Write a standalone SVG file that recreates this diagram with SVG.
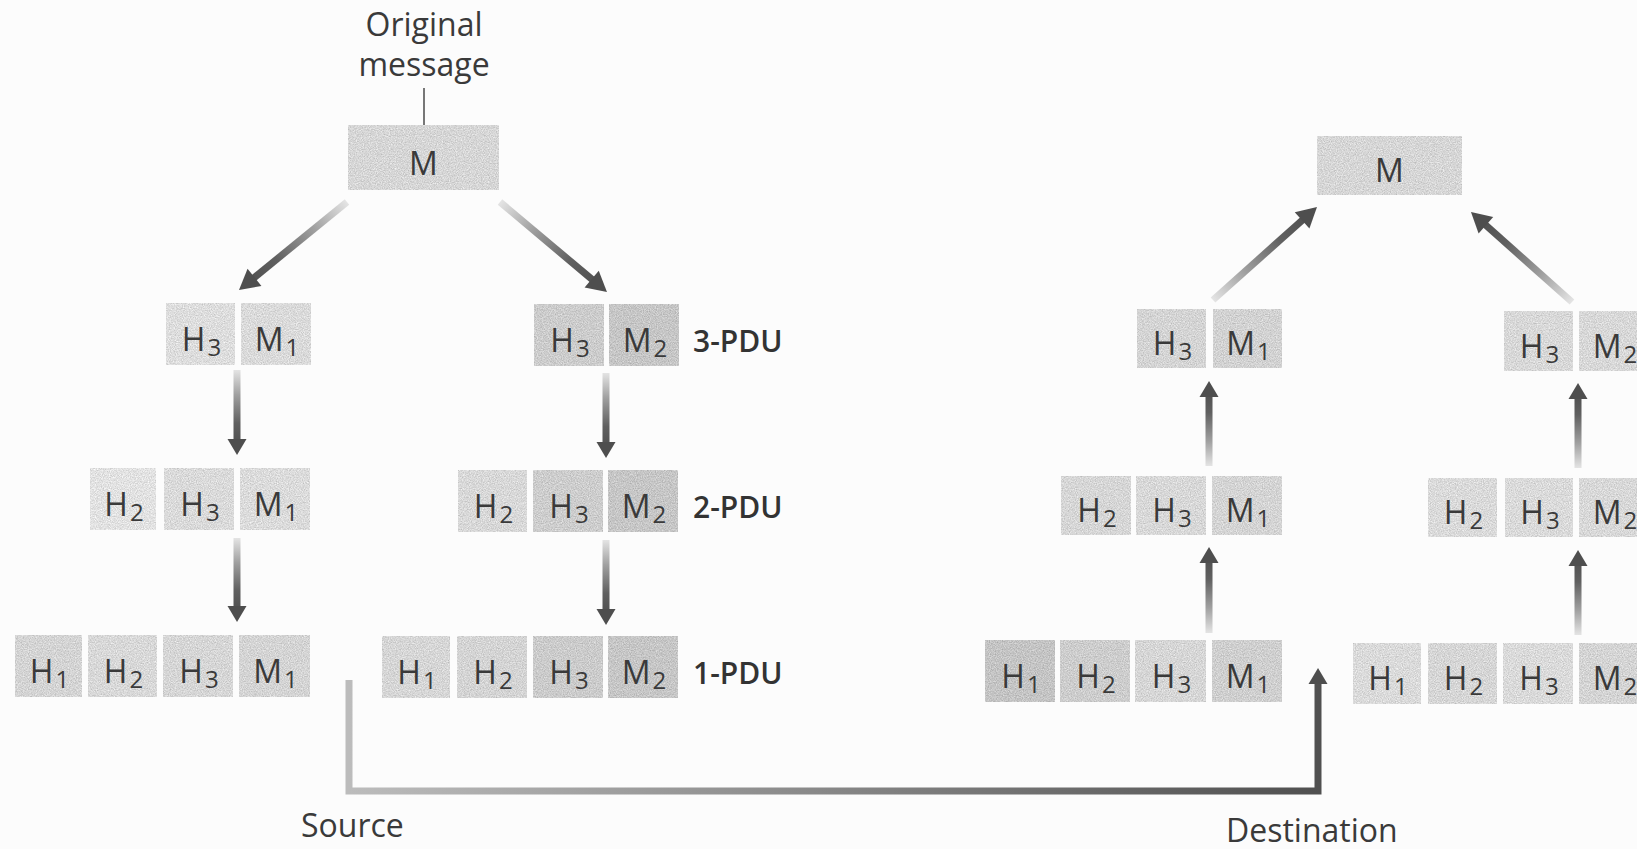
<svg xmlns="http://www.w3.org/2000/svg" xmlns:xlink="http://www.w3.org/1999/xlink" width="1637" height="849" viewBox="0 0 1637 849">
  <defs>
    <style>
      .cell { filter: url(#grain); }
      .t { font-family: "Open Sans", "Noto Sans", "DejaVu Sans", sans-serif; font-size: 32px; fill: #3a3a3a; text-anchor: middle; }
      .sub { font-size: 24px; }
      .pdu { font-family: "Open Sans", "Noto Sans", "DejaVu Sans", sans-serif; font-size: 30px; font-weight: 600; fill: #333333; }
      .cap { font-family: "Open Sans", "Noto Sans", "DejaVu Sans", sans-serif; font-size: 32px; fill: #3a3a3a; }
      .shaft { fill: url(#fade); }
      .head { fill: #4e4e4e; }
    </style>
    <!-- speckled print texture for the grey cells -->
    <filter id="grain" x="0" y="0" width="100%" height="100%" color-interpolation-filters="sRGB">
      <feTurbulence type="fractalNoise" baseFrequency="0.85" numOctaves="2" seed="7" result="noise"/>
      <feColorMatrix in="noise" type="matrix" values="1 0 0 0 0  1 0 0 0 0  1 0 0 0 0  0 0 0 0 1" result="gray"/>
      <feComposite in="SourceGraphic" in2="gray" operator="arithmetic" k1="0" k2="1" k3="0.3" k4="-0.15" result="mix"/>
      <feComposite in="mix" in2="SourceGraphic" operator="in"/>
    </filter>
    <!-- arrow shaft fades from pale tail to dark head -->
    <linearGradient id="fade" x1="0" y1="0" x2="1" y2="0">
      <stop offset="0" stop-color="#e4e4e4"/>
      <stop offset="0.35" stop-color="#a0a0a0"/>
      <stop offset="0.75" stop-color="#606060"/>
      <stop offset="1" stop-color="#525252"/>
    </linearGradient>
    <linearGradient id="trail" gradientUnits="userSpaceOnUse" x1="349" y1="0" x2="1318" y2="0">
      <stop offset="0" stop-color="#bcbcbc"/>
      <stop offset="0.45" stop-color="#8c8c8c"/>
      <stop offset="1" stop-color="#505050"/>
    </linearGradient>
    <path id="headS" d="M0,0 L-16,-9.5 L-16,9.5 Z"/>
    <path id="headL" d="M0,0 L-20,-11 L-20,11 Z"/>
  </defs>

  <rect width="1637" height="849" fill="#fcfcfc"/>

  <!-- ===== Source side ===== -->
  <g id="original-label">
    <text class="cap" x="424" y="36" text-anchor="middle">Original</text>
    <text class="cap" x="424" y="76" text-anchor="middle">message</text>
    <line x1="424" y1="88" x2="424" y2="137" stroke="#555" stroke-width="1.6"/>
  </g>

  <g id="src-m">
    <rect class="cell" x="348" y="125" width="151" height="65" fill="#d6d6d6"/>
    <text class="t" x="423.5" y="175">M</text>
  </g>

  <g id="src-3pdu-a">
    <rect class="cell" x="166" y="303" width="69" height="62" fill="#dddddd"/>
    <rect class="cell" x="241" y="303" width="70" height="62" fill="#dadada"/>
    <text class="t" x="201.5" y="351">H<tspan class="sub" dx="2" dy="5">3</tspan></text>
    <text class="t" x="277" y="351">M<tspan class="sub" dx="2" dy="5">1</tspan></text>
  </g>

  <g id="src-3pdu-b">
    <rect class="cell" x="534" y="304" width="70" height="62" fill="#cccccc"/>
    <rect class="cell" x="609" y="304" width="70" height="62" fill="#c6c6c6"/>
    <text class="t" x="570" y="352">H<tspan class="sub" dx="2" dy="5">3</tspan></text>
    <text class="t" x="645" y="352">M<tspan class="sub" dx="2" dy="5">2</tspan></text>
  </g>
  <text class="pdu" x="693" y="352">3-PDU</text>

  <g id="src-2pdu-a">
    <rect class="cell" x="90" y="468" width="66" height="62" fill="#e2e2e2"/>
    <rect class="cell" x="164" y="468" width="70" height="62" fill="#dadada"/>
    <rect class="cell" x="240" y="468" width="70" height="62" fill="#dbdbdb"/>
    <text class="t" x="124" y="516">H<tspan class="sub" dx="2" dy="5">2</tspan></text>
    <text class="t" x="200" y="516">H<tspan class="sub" dx="2" dy="5">3</tspan></text>
    <text class="t" x="276" y="516">M<tspan class="sub" dx="2" dy="5">1</tspan></text>
  </g>

  <g id="src-2pdu-b">
    <rect class="cell" x="458" y="470" width="69" height="62" fill="#d8d8d8"/>
    <rect class="cell" x="533" y="470" width="70" height="62" fill="#cdcdcd"/>
    <rect class="cell" x="608" y="470" width="70" height="62" fill="#c6c6c6"/>
    <text class="t" x="493.5" y="518">H<tspan class="sub" dx="2" dy="5">2</tspan></text>
    <text class="t" x="569" y="518">H<tspan class="sub" dx="2" dy="5">3</tspan></text>
    <text class="t" x="644" y="518">M<tspan class="sub" dx="2" dy="5">2</tspan></text>
  </g>
  <text class="pdu" x="693" y="518">2-PDU</text>

  <g id="src-1pdu-a">
    <rect class="cell" x="15" y="635" width="67" height="62" fill="#d4d4d4"/>
    <rect class="cell" x="88" y="635" width="69" height="62" fill="#d8d8d8"/>
    <rect class="cell" x="163" y="635" width="70" height="62" fill="#d6d6d6"/>
    <rect class="cell" x="239" y="635" width="71" height="62" fill="#d4d4d4"/>
    <text class="t" x="49.5" y="683">H<tspan class="sub" dx="2" dy="5">1</tspan></text>
    <text class="t" x="123.5" y="683">H<tspan class="sub" dx="2" dy="5">2</tspan></text>
    <text class="t" x="199" y="683">H<tspan class="sub" dx="2" dy="5">3</tspan></text>
    <text class="t" x="275.5" y="683">M<tspan class="sub" dx="2" dy="5">1</tspan></text>
  </g>

  <g id="src-1pdu-b">
    <rect class="cell" x="382" y="636" width="68" height="62" fill="#d6d6d6"/>
    <rect class="cell" x="457" y="636" width="70" height="62" fill="#d4d4d4"/>
    <rect class="cell" x="533" y="636" width="70" height="62" fill="#cbcbcb"/>
    <rect class="cell" x="608" y="636" width="70" height="62" fill="#c6c6c6"/>
    <text class="t" x="417" y="684">H<tspan class="sub" dx="2" dy="5">1</tspan></text>
    <text class="t" x="493" y="684">H<tspan class="sub" dx="2" dy="5">2</tspan></text>
    <text class="t" x="569" y="684">H<tspan class="sub" dx="2" dy="5">3</tspan></text>
    <text class="t" x="644" y="684">M<tspan class="sub" dx="2" dy="5">2</tspan></text>
  </g>
  <text class="pdu" x="693" y="684">1-PDU</text>

  <!-- ===== Destination side ===== -->
  <g id="dst-m">
    <rect class="cell" x="1317" y="136" width="145" height="59" fill="#d6d6d6"/>
    <text class="t" x="1389.5" y="182">M</text>
  </g>

  <g id="dst-3pdu-a">
    <rect class="cell" x="1137" y="309" width="69" height="59" fill="#d4d4d4"/>
    <rect class="cell" x="1213" y="309" width="69" height="59" fill="#d2d2d2"/>
    <text class="t" x="1172.5" y="355">H<tspan class="sub" dx="2" dy="5">3</tspan></text>
    <text class="t" x="1248.5" y="355">M<tspan class="sub" dx="2" dy="5">1</tspan></text>
  </g>

  <g id="dst-3pdu-b">
    <rect class="cell" x="1504" y="311" width="69" height="60" fill="#d8d8d8"/>
    <rect class="cell" x="1579" y="311" width="70" height="60" fill="#d8d8d8"/>
    <text class="t" x="1539.5" y="358">H<tspan class="sub" dx="2" dy="5">3</tspan></text>
    <text class="t" x="1615" y="358">M<tspan class="sub" dx="2" dy="5">2</tspan></text>
  </g>

  <g id="dst-2pdu-a">
    <rect class="cell" x="1061" y="476" width="70" height="59" fill="#d6d6d6"/>
    <rect class="cell" x="1136" y="476" width="70" height="59" fill="#d8d8d8"/>
    <rect class="cell" x="1212" y="476" width="70" height="59" fill="#d4d4d4"/>
    <text class="t" x="1097" y="522">H<tspan class="sub" dx="2" dy="5">2</tspan></text>
    <text class="t" x="1172" y="522">H<tspan class="sub" dx="2" dy="5">3</tspan></text>
    <text class="t" x="1248" y="522">M<tspan class="sub" dx="2" dy="5">1</tspan></text>
  </g>

  <g id="dst-2pdu-b">
    <rect class="cell" x="1428" y="478" width="69" height="59" fill="#dadada"/>
    <rect class="cell" x="1505" y="478" width="68" height="59" fill="#dadada"/>
    <rect class="cell" x="1579" y="478" width="70" height="59" fill="#d8d8d8"/>
    <text class="t" x="1463.5" y="524">H<tspan class="sub" dx="2" dy="5">2</tspan></text>
    <text class="t" x="1540" y="524">H<tspan class="sub" dx="2" dy="5">3</tspan></text>
    <text class="t" x="1615" y="524">M<tspan class="sub" dx="2" dy="5">2</tspan></text>
  </g>

  <g id="dst-1pdu-a">
    <rect class="cell" x="985" y="640" width="70" height="62" fill="#c4c4c4"/>
    <rect class="cell" x="1060" y="640" width="70" height="62" fill="#cdcdcd"/>
    <rect class="cell" x="1135" y="640" width="71" height="62" fill="#d6d6d6"/>
    <rect class="cell" x="1212" y="640" width="70" height="62" fill="#cfcfcf"/>
    <text class="t" x="1021" y="688">H<tspan class="sub" dx="2" dy="5">1</tspan></text>
    <text class="t" x="1096" y="688">H<tspan class="sub" dx="2" dy="5">2</tspan></text>
    <text class="t" x="1171.5" y="688">H<tspan class="sub" dx="2" dy="5">3</tspan></text>
    <text class="t" x="1248" y="688">M<tspan class="sub" dx="2" dy="5">1</tspan></text>
  </g>

  <g id="dst-1pdu-b">
    <rect class="cell" x="1353" y="643" width="68" height="61" fill="#dadada"/>
    <rect class="cell" x="1428" y="643" width="69" height="61" fill="#d6d6d6"/>
    <rect class="cell" x="1503" y="643" width="70" height="61" fill="#dadada"/>
    <rect class="cell" x="1579" y="643" width="70" height="61" fill="#d4d4d4"/>
    <text class="t" x="1388" y="690">H<tspan class="sub" dx="2" dy="5">1</tspan></text>
    <text class="t" x="1463.5" y="690">H<tspan class="sub" dx="2" dy="5">2</tspan></text>
    <text class="t" x="1539" y="690">H<tspan class="sub" dx="2" dy="5">3</tspan></text>
    <text class="t" x="1615" y="690">M<tspan class="sub" dx="2" dy="5">2</tspan></text>
  </g>

  <text id="source-label" class="cap" x="301" y="837">Source</text>
  <text id="destination-label" class="cap" x="1226" y="842">Destination</text>

  <!-- ===== Connectors: each arrow drawn along +x, then placed by translate/rotate ===== -->
  <g id="connectors">
    <!-- fragmenting the message -->
    <g transform="translate(347,202) rotate(140.83)">
      <rect class="shaft" x="0" y="-3.5" width="121" height="7"/>
      <use xlink:href="#headL" class="head" x="139.3"/>
    </g>
    <g transform="translate(500,202) rotate(40.07)">
      <rect class="shaft" x="0" y="-3.5" width="122" height="7"/>
      <use xlink:href="#headL" class="head" x="139.8"/>
    </g>
    <!-- adding lower-layer headers -->
    <g transform="translate(237,370) rotate(90)">
      <rect class="shaft" x="0" y="-3.5" width="71" height="7"/>
      <use xlink:href="#headS" class="head" x="85"/>
    </g>
    <g transform="translate(237,538) rotate(90)">
      <rect class="shaft" x="0" y="-3.5" width="70" height="7"/>
      <use xlink:href="#headS" class="head" x="84"/>
    </g>
    <g transform="translate(606,373) rotate(90)">
      <rect class="shaft" x="0" y="-3.5" width="71" height="7"/>
      <use xlink:href="#headS" class="head" x="85"/>
    </g>
    <g transform="translate(606,540) rotate(90)">
      <rect class="shaft" x="0" y="-3.5" width="71" height="7"/>
      <use xlink:href="#headS" class="head" x="85"/>
    </g>

    <!-- transmission from source to destination -->
    <path d="M349,680 V791 H1318 V684" fill="none" stroke="url(#trail)" stroke-width="7" stroke-linejoin="miter"/>
    <use xlink:href="#headS" class="head" transform="translate(1318,668) rotate(-90)"/>

    <!-- stripping headers at the destination -->
    <g transform="translate(1209,633) rotate(-90)">
      <rect class="shaft" x="0" y="-3.5" width="72" height="7"/>
      <use xlink:href="#headS" class="head" x="86"/>
    </g>
    <g transform="translate(1209,466) rotate(-90)">
      <rect class="shaft" x="0" y="-3.5" width="71" height="7"/>
      <use xlink:href="#headS" class="head" x="85"/>
    </g>
    <g transform="translate(1578,635) rotate(-90)">
      <rect class="shaft" x="0" y="-3.5" width="71" height="7"/>
      <use xlink:href="#headS" class="head" x="85"/>
    </g>
    <g transform="translate(1578,468) rotate(-90)">
      <rect class="shaft" x="0" y="-3.5" width="71" height="7"/>
      <use xlink:href="#headS" class="head" x="85"/>
    </g>
    <!-- reassembling the message -->
    <g transform="translate(1213,300) rotate(-41.8)">
      <rect class="shaft" x="0" y="-3.5" width="121" height="7"/>
      <use xlink:href="#headL" class="head" x="139.5"/>
    </g>
    <g transform="translate(1572,302) rotate(-138.3)">
      <rect class="shaft" x="0" y="-3.5" width="117" height="7"/>
      <use xlink:href="#headL" class="head" x="135.3"/>
    </g>
  </g>
</svg>
